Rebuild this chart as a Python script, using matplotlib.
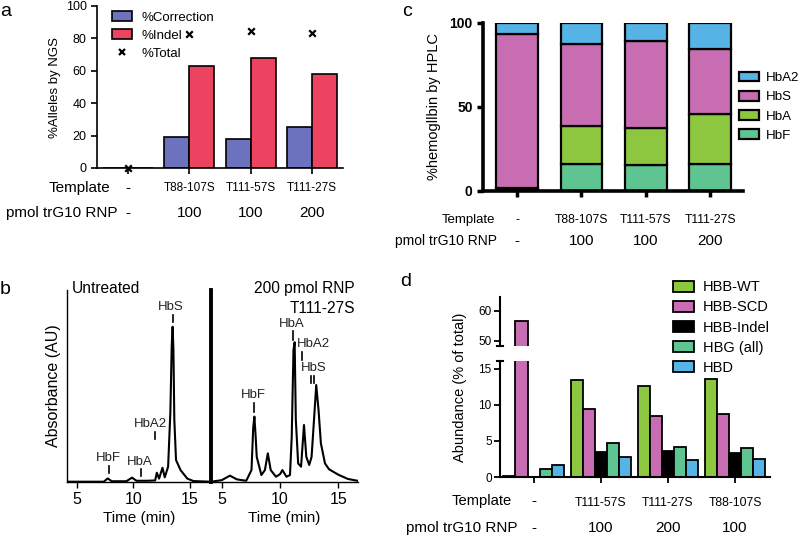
import numpy as np
import matplotlib
matplotlib.use("Agg")
import matplotlib.pyplot as plt
from matplotlib.patches import Patch
from matplotlib.lines import Line2D
from matplotlib.transforms import blended_transform_factory

plt.rcParams["font.family"] = ["Liberation Sans", "DejaVu Sans"]
plt.rcParams["axes.linewidth"] = 1.2

W, H = 800, 536

# ---------- data ----------
# panel a
templates_a = ["-", "T88-107S", "T111-57S", "T111-27S"]
rnp_a = ["-", "100", "100", "200"]
correction_a = [0.3, 19.3, 17.8, 25.5]
indel_a = [0.3, 63.0, 67.6, 58.2]
total_a = [0.3, 82.5, 84.8, 83.2]

# panel c (stacked, % of hemoglobin)
templates_c = ["-", "T88-107S", "T111-57S", "T111-27S"]
rnp_c = ["-", "100", "100", "200"]
hbf_c = [0.5, 16.3, 15.3, 15.9]
hba_c = [1.0, 22.2, 22.4, 29.7]
hbs_c = [92.2, 49.2, 51.6, 39.1]
hba2_c = [6.3, 12.3, 10.7, 15.3]

# panel b (HPLC traces)
untreated_t = [4.1, 7.4, 7.75, 8.1, 9.4, 9.9, 10.3, 11.2, 11.95, 12.1, 12.3, 12.6, 12.8,
               13.1, 13.3, 13.42, 13.5, 13.57, 13.65, 13.8, 14.2, 14.8, 15.35, 16.9]
untreated_abs = [0, 0, 2.1, 0.3, 0.3, 2.6, 0.6, 0.6, 0.8, 5.8, 2.0, 9.0, 2.8,
                 9.7, 45, 88, 100, 85, 40, 14, 7.5, 2.0, 0.4, 0]
treated_t = [4.1, 5.0, 5.7, 6.3, 7.1, 7.55, 7.7, 7.8, 7.9, 8.0, 8.4, 8.7, 8.95, 9.2, 9.65,
             10.0, 10.2, 10.55, 10.85, 11.0, 11.15, 11.25, 11.35, 11.55, 11.8, 12.05, 12.25,
             12.5, 12.7, 12.85, 13.1, 13.3, 13.5, 13.85, 14.2, 15.0, 15.8, 16.7]
treated_abs = [0, 1.0, 3.9, 1.5, 0.6, 7.5, 35, 42, 30, 16, 4.3, 7.5, 18.3, 7.5, 3.2,
               4.9, 7.5, 3.2, 4.3, 29, 85, 90, 40, 11.8, 9.7, 36.6, 16,
               10.8, 16, 33, 62.4, 46, 24.7, 11.8, 8.0, 4.5, 1.8, 0.5]

# panel d (% of total transcripts)
templates_d = ["-", "T111-57S", "T111-27S", "T88-107S"]
rnp_d = ["-", "100", "200", "100"]
hbb_wt = [0.1, 13.4, 12.6, 13.6]
hbb_scd = [56.7, 9.5, 8.5, 8.8]
hbb_indel = [0.0, 3.5, 3.6, 3.4]
hbg_all = [1.1, 4.7, 4.2, 4.0]
hbd = [1.6, 2.8, 2.3, 2.5]

# colours
C_CORR = "#6c72be"
C_INDEL = "#ec4360"
C_A2 = "#55b3e6"
C_S = "#c96db3"
C_A = "#8dc63f"
C_F = "#5ec491"


def ax_at(x0, y0, x1, y1):
    """axes from pixel box (top-left origin)"""
    return fig.add_axes([x0 / W, 1 - y1 / H, (x1 - x0) / W, (y1 - y0) / H])


def row_text(ax, labels, ypx, size):
    tr = blended_transform_factory(ax.transData, fig.transFigure)
    for i, lab in enumerate(labels):
        ax.text(i, 1 - ypx / H, lab, transform=tr, ha="center", va="center", fontsize=size)


fig = plt.figure(figsize=(W / 100, H / 100), dpi=100)

# ================= panel a =================
ax = ax_at(97, 6, 343, 168)
x = np.arange(len(templates_a))
w = 0.41
ax.bar(x - w / 2, correction_a, w, color=C_CORR, edgecolor="black", linewidth=1.2)
ax.bar(x + w / 2, indel_a, w, color=C_INDEL, edgecolor="black", linewidth=1.2)
ax.scatter(x, total_a, marker="x", color="black", s=22, linewidths=1.6, zorder=5, clip_on=False)
ax.set_xlim(-0.5, 3.5)
ax.set_ylim(0, 100)
ax.set_yticks([0, 20, 40, 60, 80, 100])
ax.set_xticks(x)
ax.set_xticklabels([])
ax.tick_params(labelsize=9, length=4, width=1.2)
ax.set_ylabel("%Alleles by NGS", fontsize=9.5, labelpad=3)
for s in ["top", "right"]:
    ax.spines[s].set_visible(False)
handles = [Patch(facecolor=C_CORR, edgecolor="black", linewidth=1.2),
           Patch(facecolor=C_INDEL, edgecolor="black", linewidth=1.2),
           Line2D([], [], marker="x", color="black", linestyle="none", markersize=5, markeredgewidth=1.6)]
ax.legend(handles, ["%Correction", "%Indel", "%Total"], loc="upper left",
          bbox_to_anchor=(0.035, 1.01), frameon=False, fontsize=9.5, borderpad=0,
          handlelength=1.5, handleheight=0.8, labelspacing=0.42, handletextpad=0.7)
row_text(ax, templates_a[:1], 188, 11)
tr = blended_transform_factory(ax.transData, fig.transFigure)
for i in range(1, 4):
    ax.text(i, 1 - 188 / H, templates_a[i], transform=tr, ha="center", va="center", fontsize=8.5)
row_text(ax, rnp_a, 213, 11)
fig.text(110 / W, 1 - 188 / H, "Template", ha="right", va="center", fontsize=11)
fig.text(117 / W, 1 - 213 / H, "pmol trG10 RNP", ha="right", va="center", fontsize=11)
fig.text(0, 1 - 11 / H, "a", ha="left", va="center", fontsize=14)

# ================= panel c =================
ax = ax_at(483, 23, 743, 191)
x = np.arange(len(templates_c))
wc = 0.65
bottom = np.zeros(4)
for vals, col in [(hbf_c, C_F), (hba_c, C_A), (hbs_c, C_S), (hba2_c, C_A2)]:
    ax.bar(x, vals, wc, bottom=bottom, color=col, edgecolor="black", linewidth=1.6)
    bottom += np.array(vals)
ax.set_xlim(-0.53, 3.51)
ax.set_ylim(0, 100)
ax.set_yticks([0, 50, 100])
ax.set_xticks(x)
ax.set_xticklabels([])
ax.tick_params(length=4, width=2.5, labelsize=10)
for lab in ax.get_yticklabels():
    lab.set_fontweight("bold")
for s in ["top", "right"]:
    ax.spines[s].set_visible(False)
for s in ["left", "bottom"]:
    ax.spines[s].set_linewidth(2.6)
ax.set_ylabel("%hemogllbin by HPLC", fontsize=10.5, labelpad=6)
hc = [Patch(facecolor=c, edgecolor="black", linewidth=1.6) for c in [C_A2, C_S, C_A, C_F]]
fig.legend(hc, ["HbA2", "HbS", "HbA", "HbF"], loc="upper left",
           bbox_to_anchor=(732 / W, 1 - 65 / H), frameon=False, fontsize=9.6, borderpad=0,
           handlelength=1.5, handleheight=0.75, labelspacing=0.5, handletextpad=0.55)
row_text(ax, templates_c[:1], 220, 9)
tr = blended_transform_factory(ax.transData, fig.transFigure)
for i in range(1, 4):
    ax.text(i, 1 - 220 / H, templates_c[i], transform=tr, ha="center", va="center", fontsize=8.8)
row_text(ax, rnp_c, 241, 11)
fig.text(495 / W, 1 - 220 / H, "Template", ha="right", va="center", fontsize=9.5)
fig.text(497 / W, 1 - 241 / H, "pmol trG10 RNP", ha="right", va="center", fontsize=10)
fig.text(402 / W, 1 - 12 / H, "c", ha="left", va="center", fontsize=14)

# ================= panel b =================
ylim_b = (0, 123.7)
axl = ax_at(67, 290, 211, 481.7)
axl.plot(untreated_t, untreated_abs, color="black", lw=1.5)
axl.set_xlim(4.14, 16.9)
axl.set_ylim(*ylim_b)
axl.set_yticks([])
axl.set_xticks([5, 10, 15])
axl.tick_params(labelsize=11.5, length=4, width=1.0)
for s in ["top", "right"]:
    axl.spines[s].set_visible(False)
axl.spines["left"].set_linewidth(1.0)
axl.spines["bottom"].set_linewidth(1.0)
axl.set_xlabel("Time (min)", fontsize=11, labelpad=3)
axl.set_ylabel("Absorbance (AU)", fontsize=11.5, labelpad=4)
axl.text(0.033, 1.01, "Untreated", transform=axl.transAxes, ha="left", va="center", fontsize=11.2)

axr = ax_at(211, 290, 358, 481.7)
axr.plot(treated_t, treated_abs, color="black", lw=1.5)
axr.set_xlim(4.08, 16.68)
axr.set_ylim(*ylim_b)
axr.set_yticks([])
axr.set_xticks([5, 10, 15])
axr.tick_params(labelsize=11.5, length=4, width=1.0)
for s in ["top", "right"]:
    axr.spines[s].set_visible(False)
axr.spines["left"].set_linewidth(2.8)
axr.spines["bottom"].set_linewidth(1.0)
axr.set_xlabel("Time (min)", fontsize=11, labelpad=3)
axr.text(0.98, 1.01, "200 pmol RNP", transform=axr.transAxes, ha="right", va="center", fontsize=11.2)
axr.text(0.98, 0.905, "T111-27S", transform=axr.transAxes, ha="right", va="center", fontsize=11.2)

peak_labels_l = [("HbF", 7.81, 15.1, 7.9, 10.0, 5.4),
                 ("HbA", 10.6, 12.9, 10.68, 8.2, 3.4),
                 ("HbA2", 11.5, 37.2, 11.95, 32.3, 27.5),
                 ("HbS", 13.3, 112.9, 13.5, 107.5, 103.2)]
for name, tx, ty, kx, k0, k1 in peak_labels_l:
    axl.text(tx, ty, name, ha="center", va="center", fontsize=9.5, color="#222")
    axl.plot([kx, kx], [k0, k1], color="black", lw=1.2)
peak_labels_r = [("HbF", 7.74, 55.9, [7.77], 50.5, 45.2),
                 ("HbA", 11.0, 102.0, [11.14], 97.2, 91.4),
                 ("HbA2", 12.83, 88.8, [11.91], 83.9, 78.5),
                 ("HbS", 12.89, 73.1, [12.63, 12.94], 68.2, 63.4)]
for name, tx, ty, kxs, k0, k1 in peak_labels_r:
    axr.text(tx, ty, name, ha="center", va="center", fontsize=9.5, color="#222")
    for kx in kxs:
        axr.plot([kx, kx], [k0, k1], color="black", lw=1.2)
fig.text(0, 1 - 289 / H, "b", ha="left", va="center", fontsize=14)

# ================= panel d =================
axb = ax_at(500, 361, 770, 477)
axt = ax_at(500, 297, 770, 346)
x = np.arange(len(templates_d))
wd = 0.18
series_d = [(hbb_wt, C_A), (hbb_scd, C_S), (hbb_indel, "black"), (hbg_all, C_F), (hbd, C_A2)]
for k, (vals, col) in enumerate(series_d):
    for a in (axb, axt):
        a.bar(x + (k - 2) * wd, vals, wd, color=col, edgecolor="black", linewidth=1.3)
for a in (axb, axt):
    a.set_xlim(-0.5, 3.52)
    a.spines["top"].set_visible(False)
    a.spines["right"].set_visible(False)
    a.spines["left"].set_linewidth(1.5)
    a.tick_params(labelsize=8.5, length=4, width=1.3, pad=2)
axb.set_ylim(0, 16.1)
axb.set_yticks([0, 5, 10, 15])
axb.set_xticks(x)
axb.set_xticklabels([])
axb.spines["bottom"].set_linewidth(1.5)
axt.set_ylim(48.2, 64.7)
axt.set_yticks([50, 60])
axt.set_xticks([])
axt.spines["bottom"].set_visible(False)
# break marks
for a, yy in ((axb, 1.0), (axt, 0.0)):
    a.plot([-0.012, 0.012], [yy, yy], transform=a.transAxes, color="black", lw=1.5, clip_on=False)
fig.text(460 / W, 1 - 387 / H, "Abundance (% of total)", rotation=90, ha="center", va="center",
         fontsize=10.5)
hd = [Patch(facecolor=c, edgecolor="black", linewidth=1.3) for _, c in series_d]
fig.legend(hd, ["HBB-WT", "HBB-SCD", "HBB-Indel", "HBG (all)", "HBD"], loc="upper left",
           bbox_to_anchor=(666 / W, 1 - 273 / H), frameon=False, fontsize=10.5, borderpad=0,
           handlelength=1.45, handleheight=0.75, labelspacing=0.42, handletextpad=0.6)
tr = blended_transform_factory(axb.transData, fig.transFigure)
axb.text(0, 1 - 501 / H, templates_d[0], transform=tr, ha="center", va="center", fontsize=11)
for i in range(1, 4):
    axb.text(i, 1 - 503 / H, templates_d[i], transform=tr, ha="center", va="center", fontsize=8.8)
row_text(axb, rnp_d, 528, 11)
fig.text(512 / W, 1 - 501 / H, "Template", ha="right", va="center", fontsize=10.6)
fig.text(518 / W, 1 - 528 / H, "pmol trG10 RNP", ha="right", va="center", fontsize=11)
fig.text(400 / W, 1 - 281 / H, "d", ha="left", va="center", fontsize=14)

fig.savefig("out.png", dpi=100)
